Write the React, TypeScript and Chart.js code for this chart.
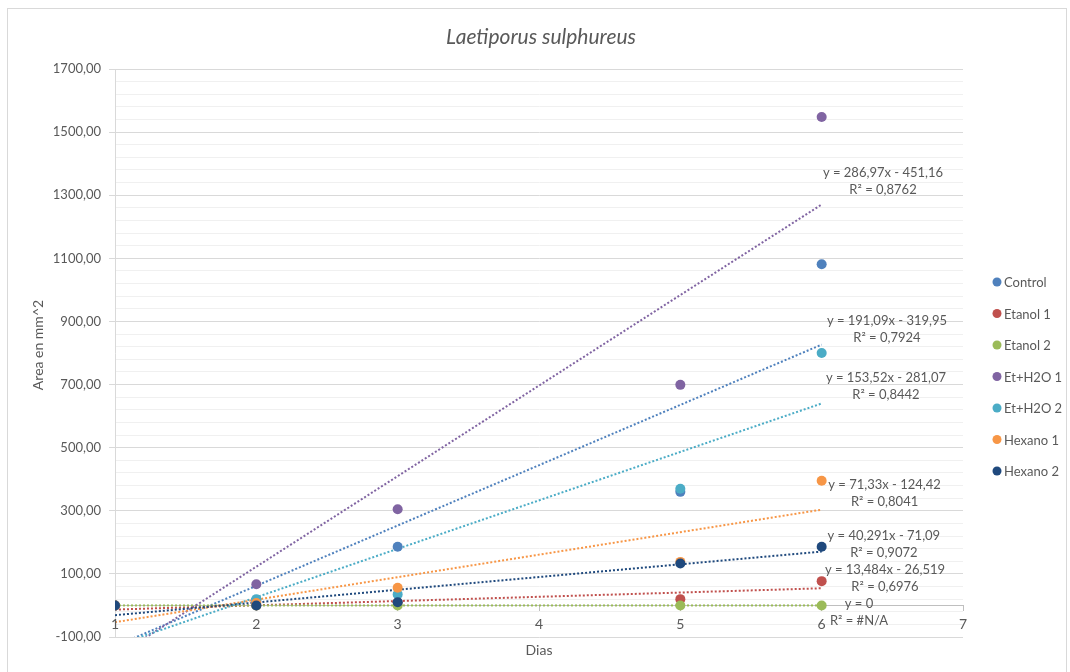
import React, { useEffect, useRef } from 'react';
import { Chart, registerables } from 'chart.js';

Chart.register(...registerables);

// ---- text ----
const chartTitle = 'Laetiporus sulphureus';
const xAxisTitle = 'Dias';
const yAxisTitle = 'Area en mm^2';

// ---- data ----
const days = [1, 2, 3, 5, 6];
const seriesNames = ['Control', 'Etanol 1', 'Etanol 2', 'Et+H2O 1', 'Et+H2O 2', 'Hexano 1', 'Hexano 2'];
const seriesColors = ['#4F81BD', '#C0504D', '#9BBB59', '#8064A2', '#4BACC6', '#F79646', '#1F497D'];
const control = [0, 15, 186, 360, 1081];
const etanol1 = [0, 0, 10, 20, 77];
const etanol2 = [0, 0, 0, 0, 0];
const etH2O1 = [0, 67, 305, 699, 1548];
const etH2O2 = [0, 20, 35, 370, 800];
const hexano1 = [0, 8, 56, 138, 395];
const hexano2 = [0, 0, 10, 133, 186];
const seriesValues = [control, etanol1, etanol2, etH2O1, etH2O2, hexano1, hexano2];

// linear trendlines (from the chart's equations)
const trendSlopes = [191.09, 13.484, 0, 286.97, 153.52, 71.33, 40.291];
const trendIntercepts = [-319.95, -26.519, 0, -451.16, -281.07, -124.42, -71.09];
const trendEquations = [
  'y = 191,09x - 319,95',
  'y = 13,484x - 26,519',
  'y = 0',
  'y = 286,97x - 451,16',
  'y = 153,52x - 281,07',
  'y = 71,33x - 124,42',
  'y = 40,291x - 71,09',
];
const trendR2 = ['R² = 0,7924', 'R² = 0,6976', 'R² = #N/A', 'R² = 0,8762', 'R² = 0,8442', 'R² = 0,8041', 'R² = 0,9072'];
const trendFrom = 1;
const trendTo = 6;
// label anchors in data units (centre of first line)
const labelX = [6.462, 6.448, 6.264, 6.434, 6.455, 6.445, 6.44];
const labelY = [901, 112, 5, 1370, 721, 382, 220];

// ---- axes ----
const xMin = 1;
const xMax = 7;
const xStep = 1;
const yMin = -100;
const yMax = 1700;
const yMajorStep = 200;
const yMinorStep = 40;

const GRAY_TEXT = '#595959';
const FONT = 'Lato, "Open Sans", sans-serif';

const fmtY = (v: number) => v.toFixed(2).replace('.', ',');
const isMajor = (v: number) => Math.abs(((v - yMin) % yMajorStep)) < 1e-6;

const decorPlugin = {
  id: 'decor',
  beforeDraw(chart: any) {
    const ctx = chart.ctx;
    ctx.save();
    ctx.fillStyle = '#ffffff';
    ctx.fillRect(0, 0, chart.width, chart.height);
    ctx.restore();
  },
  afterDatasetsDraw(chart: any) {
    const ctx = chart.ctx;
    const xs = chart.scales.x;
    const ys = chart.scales.y;
    ctx.save();
    // x tick labels below the axis line (axis crosses at y = 0)
    ctx.fillStyle = GRAY_TEXT;
    ctx.textAlign = 'center';
    ctx.textBaseline = 'middle';
    ctx.font = `14px ${FONT}`;
    const axisY = ys.getPixelForValue(0);
    xs.ticks.forEach((t: any) => {
      ctx.fillText(String(t.value), xs.getPixelForValue(t.value), axisY + 19);
    });
    ctx.restore();
  },
  afterDraw(chart: any) {
    const ctx = chart.ctx;
    const ca = chart.chartArea;
    const xs = chart.scales.x;
    const ys = chart.scales.y;
    ctx.save();
    // outer border
    ctx.strokeStyle = '#d9d9d9';
    ctx.lineWidth = 1;
    ctx.strokeRect(7.5, 8.5, 1059, 700);

    // title
    ctx.fillStyle = GRAY_TEXT;
    ctx.textAlign = 'center';
    ctx.textBaseline = 'middle';
    ctx.font = `italic 21px ${FONT}`;
    ctx.fillText(chartTitle, 541, 37);

    // x axis title
    ctx.font = `14px ${FONT}`;
    ctx.fillText(xAxisTitle, (ca.left + ca.right) / 2, ca.bottom + 13);

    // y axis title
    ctx.save();
    ctx.translate(38, (ca.top + ca.bottom) / 2 - 8);
    ctx.rotate(-Math.PI / 2);
    ctx.font = `14px ${FONT}`;
    ctx.fillText(yAxisTitle, 0, 0);
    ctx.restore();

    // legend
    ctx.font = `13px ${FONT}`;
    ctx.textAlign = 'left';
    seriesNames.forEach((name, i) => {
      const cy = 282 + i * 31.5;
      ctx.fillStyle = seriesColors[i];
      ctx.beginPath();
      ctx.arc(997, cy, 4.5, 0, Math.PI * 2);
      ctx.fill();
      ctx.fillStyle = GRAY_TEXT;
      ctx.fillText(name, 1004, cy + 1);
    });

    // trendline labels
    ctx.textAlign = 'center';
    ctx.font = `13px ${FONT}`;
    ctx.fillStyle = GRAY_TEXT;
    trendEquations.forEach((eq, i) => {
      const px = xs.getPixelForValue(labelX[i]);
      const py = ys.getPixelForValue(labelY[i]);
      ctx.fillText(eq, px, py);
      ctx.fillText(trendR2[i], px, py + 17);
    });
    ctx.restore();
  },
};

export default function App() {
  const ref = useRef<HTMLCanvasElement | null>(null);

  useEffect(() => {
    if (!ref.current) return;

    const pointSets = seriesNames.map((name, i) => ({
      type: 'scatter' as const,
      label: name,
      data: days.map((d, j) => ({ x: d, y: seriesValues[i][j] })),
      backgroundColor: seriesColors[i],
      borderColor: seriesColors[i],
      borderWidth: 0,
      pointRadius: 5,
      order: 20 - i,
    }));

    const trendSets = seriesNames.map((name, i) => ({
      type: 'line' as const,
      label: name + ' trend',
      data: [trendFrom, trendTo].map((x) => ({ x, y: trendSlopes[i] * x + trendIntercepts[i] })),
      borderColor: seriesColors[i],
      borderWidth: 2,
      borderDash: [2, 2],
      pointRadius: 0,
      fill: false,
      order: 40 - i,
    }));

    const chart = new Chart(ref.current, {
      type: 'scatter',
      data: { datasets: [...trendSets, ...pointSets] as any },
      options: {
        responsive: false,
        animation: false,
        devicePixelRatio: 1,
        layout: { padding: { top: 69, right: 107, bottom: 35, left: 20 } },
        plugins: {
          legend: { display: false },
          title: { display: false },
          tooltip: { enabled: false },
        },
        scales: {
          x: {
            type: 'linear',
            position: { y: 0 } as any,
            min: xMin,
            max: xMax,
            afterBuildTicks: (scale: any) => {
              const t = [];
              for (let v = xMin; v <= xMax + 1e-9; v += xStep) t.push({ value: v });
              scale.ticks = t;
            },
            ticks: { display: false, autoSkip: false },
            grid: {
              drawOnChartArea: false,
              drawTicks: true,
              tickLength: 5,
              color: '#bfbfbf',
            },
            border: { display: true, color: '#bfbfbf', width: 1 },
          },
          y: {
            type: 'linear',
            position: 'left',
            min: yMin,
            max: yMax,
            afterBuildTicks: (scale: any) => {
              const t = [];
              for (let v = yMin; v <= yMax + 1e-9; v += yMinorStep) t.push({ value: Math.round(v) });
              scale.ticks = t;
            },
            afterFit: (scale: any) => {
              scale.width = 95;
            },
            ticks: {
              autoSkip: false,
              padding: 8,
              color: GRAY_TEXT,
              font: { family: FONT, size: 13 },
              callback: (v: any) => (isMajor(Number(v)) ? fmtY(Number(v)) : ''),
            },
            grid: {
              drawTicks: true,
              tickLength: 6,
              color: (c: any) => (c.tick && isMajor(c.tick.value) ? '#d9d9d9' : '#f0f0f0'),
              tickColor: (c: any) => (c.tick && isMajor(c.tick.value) ? '#d9d9d9' : 'rgba(0,0,0,0)'),
            },
            border: { display: true, color: '#d9d9d9', width: 1 },
            title: { display: false },
          },
        },
      },
      plugins: [decorPlugin],
    } as any);

    return () => chart.destroy();
  }, []);

  return (
    <div style={{ position: 'fixed', left: 0, top: 0, width: 1070, height: 672, background: '#fff' }}>
      <canvas ref={ref} width={1070} height={672} style={{ display: 'block', width: 1070, height: 672 }} />
    </div>
  );
}
